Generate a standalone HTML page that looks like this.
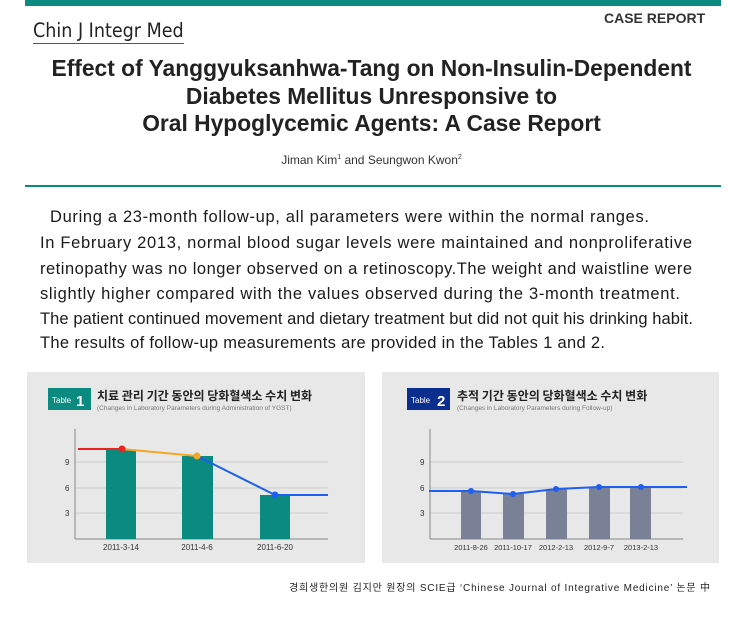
<!DOCTYPE html>
<html><head><meta charset="utf-8"><style>
body{margin:0;width:743px;height:624px;background:#fff;position:relative;overflow:hidden;font-family:"Liberation Sans","Noto Sans CJK KR",sans-serif;}
.a{position:absolute;white-space:nowrap;}
</style></head><body>
<div class="a" style="left:25px;top:0;width:696px;height:6px;background:#0b8a7f"></div>
<div class="a" style="left:33px;top:19px;font-family:'DejaVu Sans Condensed','DejaVu Sans',sans-serif;font-size:19.5px;color:#222;border-bottom:1px solid #555;line-height:24px">Chin J Integr Med</div>
<div class="a" style="left:604px;top:10px;font-size:14px;font-weight:bold;color:#333">CASE REPORT</div>
<div class="a" style="left:0;width:743px;top:55px;text-align:center;font-size:22.8px;font-weight:bold;color:#222;line-height:27.5px">Effect of Yanggyuksanhwa-Tang on Non-Insulin-Dependent<br>Diabetes Mellitus Unresponsive to<br>Oral Hypoglycemic Agents: A Case Report</div>
<div class="a" style="left:0;width:743px;top:153px;text-align:center;font-size:12px;color:#333">Jiman Kim<sup style="font-size:7px">1</sup> and Seungwon Kwon<sup style="font-size:7px">2</sup></div>
<div class="a" style="left:25px;top:185px;width:696px;height:2px;background:#0b8a7f"></div>

<svg class="a" style="left:0;top:0" width="743" height="624">
<g font-family="Liberation Sans, sans-serif" font-size="16.5" fill="#1a1a1a">
<text x="50" y="222" textLength="599" lengthAdjust="spacing">During a 23-month follow-up, all parameters were within the normal ranges.</text>
<text x="40" y="248" textLength="652" lengthAdjust="spacing">In February 2013, normal blood sugar levels were maintained and nonproliferative</text>
<text x="40" y="274" textLength="652" lengthAdjust="spacing">retinopathy was no longer observed on a retinoscopy.The weight and waistline were</text>
<text x="40" y="299" textLength="640" lengthAdjust="spacing">slightly higher compared with the values observed during the 3-month treatment.</text>
<text x="40" y="324" textLength="653" lengthAdjust="spacing">The patient continued movement and dietary treatment but did not quit his drinking habit.</text>
<text x="40" y="348" textLength="565" lengthAdjust="spacing">The results of follow-up measurements are provided in the Tables 1 and 2.</text>
</g>
<g font-family="Liberation Sans, sans-serif">
<rect x="27" y="372" width="338" height="191" fill="#e8e8e8"/>
<rect x="48" y="388" width="43" height="22" fill="#0b8a7f"/>
<text x="52" y="403" font-size="8" fill="#fff">Table</text>
<text x="76" y="406" font-size="15" font-weight="bold" fill="#fff">1</text>
<text x="97" y="400" font-size="12" font-weight="bold" fill="#222" font-family="Noto Sans CJK KR, sans-serif">치료 관리 기간 동안의 당화혈색소 수치 변화</text>
<text x="97" y="410" font-size="6.5" fill="#777">(Changes in Laboratory Parameters during Administration of YGST)</text>
<g stroke="#ccc" stroke-width="1"><line x1="75" y1="462" x2="328" y2="462"/><line x1="75" y1="488" x2="328" y2="488"/><line x1="75" y1="513" x2="328" y2="513"/></g>
<line x1="75" y1="429" x2="75" y2="539" stroke="#888"/><line x1="75" y1="539" x2="328" y2="539" stroke="#888"/>
<g font-size="8" fill="#333"><text x="65" y="465">9</text><text x="65" y="491">6</text><text x="65" y="516">3</text></g>
<g fill="#0b8a7f"><rect x="106" y="450" width="30" height="89"/><rect x="182" y="456" width="31" height="83"/><rect x="260" y="495" width="30" height="44"/></g>
<line x1="78" y1="449" x2="122" y2="449" stroke="#e8251f" stroke-width="2"/>
<line x1="122" y1="449" x2="197" y2="456" stroke="#f5a623" stroke-width="2"/>
<polyline points="197,456 275,495 328,495" fill="none" stroke="#1e5ef0" stroke-width="2"/>
<circle cx="122" cy="449" r="3.5" fill="#e8251f"/><circle cx="197" cy="456" r="3.5" fill="#f5a623"/><circle cx="275" cy="495" r="3.5" fill="#1e5ef0"/>
<g font-size="8" fill="#333" text-anchor="middle"><text x="121" y="550">2011-3-14</text><text x="197" y="550">2011-4-6</text><text x="275" y="550">2011-6-20</text></g>

<rect x="382" y="372" width="337" height="191" fill="#e8e8e8"/>
<rect x="407" y="388" width="43" height="22" fill="#0c2f8f"/>
<text x="411" y="403" font-size="8" fill="#fff">Table</text>
<text x="437" y="406" font-size="15" font-weight="bold" fill="#fff">2</text>
<text x="457" y="400" font-size="12" font-weight="bold" fill="#222" font-family="Noto Sans CJK KR, sans-serif">추적 기간 동안의 당화혈색소 수치 변화</text>
<text x="457" y="410" font-size="6.5" fill="#777">(Changes in Laboratory Parameters during Follow-up)</text>
<g stroke="#ccc" stroke-width="1"><line x1="430" y1="462" x2="683" y2="462"/><line x1="430" y1="488" x2="683" y2="488"/><line x1="430" y1="513" x2="683" y2="513"/></g>
<line x1="430" y1="429" x2="430" y2="539" stroke="#888"/><line x1="430" y1="539" x2="683" y2="539" stroke="#888"/>
<g font-size="8" fill="#333"><text x="420" y="465">9</text><text x="420" y="491">6</text><text x="420" y="516">3</text></g>
<g fill="#7a8196"><rect x="461" y="491" width="20" height="48"/><rect x="503" y="494" width="21" height="45"/><rect x="546" y="489" width="21" height="50"/><rect x="589" y="487" width="21" height="52"/><rect x="630" y="487" width="21" height="52"/></g>
<polyline points="429,491 471,491 513,494 556,489 599,487 641,487 687,487" fill="none" stroke="#1e5ef0" stroke-width="2"/>
<g fill="#1e5ef0"><circle cx="471" cy="491" r="3"/><circle cx="513" cy="494" r="3"/><circle cx="556" cy="489" r="3"/><circle cx="599" cy="487" r="3"/><circle cx="641" cy="487" r="3"/></g>
<g font-size="7.5" fill="#333" text-anchor="middle"><text x="471" y="550">2011-8-26</text><text x="513" y="550">2011-10-17</text><text x="556" y="550">2012-2-13</text><text x="599" y="550">2012-9-7</text><text x="641" y="550">2013-2-13</text></g>
</g>
<text x="710" y="591" text-anchor="end" font-size="10" fill="#222" textLength="421" lengthAdjust="spacing" font-family="Liberation Sans, Noto Sans CJK KR, sans-serif">경희생한의원 김지만 원장의 SCIE급 ‘Chinese Journal of Integrative Medicine’ 논문 中</text>
</svg>
</body></html>
